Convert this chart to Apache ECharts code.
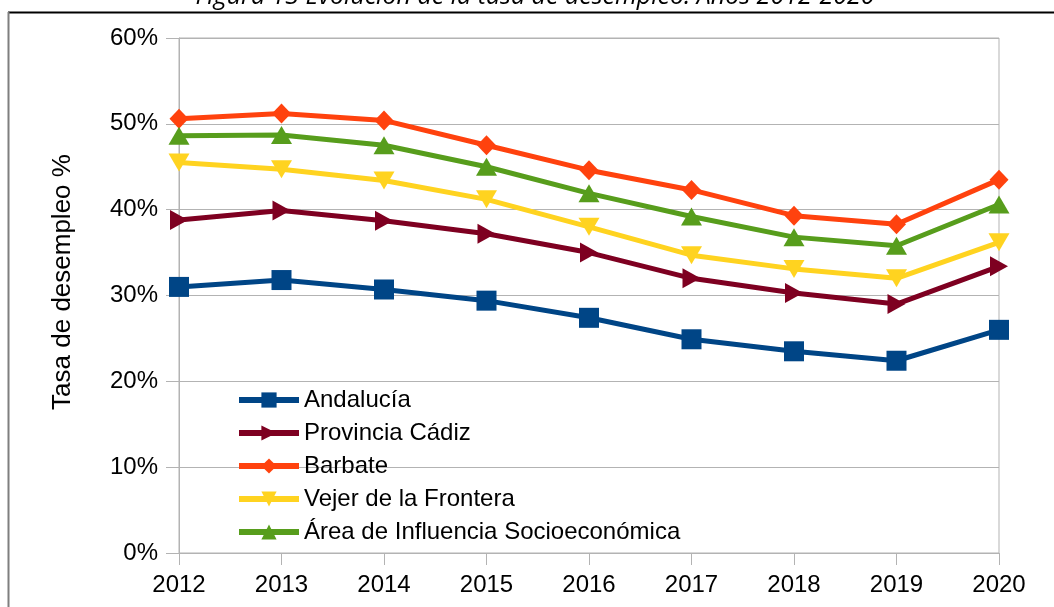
<!DOCTYPE html>
<html>
<head>
<meta charset="utf-8">
<script src="https://cdn.jsdelivr.net/npm/echarts@6/dist/echarts.min.js"></script>
<style>
  html, body { margin: 0; padding: 0; background: #fff; }
  #chart { width: 1054px; height: 607px; }
</style>
</head>
<body>
<div id="chart"></div>
<script>
//----------------------Data----------------------
let years = ['2012', '2013', '2014', '2015', '2016', '2017', '2018', '2019', '2020'];
let andalucia = [31.0, 31.8, 30.7, 29.4, 27.4, 24.9, 23.5, 22.4, 26.0];
let provincia_cadiz = [38.8, 39.9, 38.7, 37.2, 35.0, 32.0, 30.3, 29.0, 33.4];
let barbate = [50.6, 51.2, 50.4, 47.5, 44.6, 42.3, 39.3, 38.3, 43.5];
let vejer = [45.5, 44.7, 43.4, 41.2, 38.0, 34.7, 33.1, 32.0, 36.2];
let area_influencia = [48.6, 48.7, 47.5, 45.0, 41.9, 39.2, 36.8, 35.8, 40.6];
let title_text = 'Figura 13 Evolución de la tasa de desempleo. Años 2012-2020';
let y_name = 'Tasa de desempleo %';

let chart_dom = document.getElementById('chart');
let chart = echarts.init(chart_dom);

let font_main = 'Liberation Sans, Arial, sans-serif';
let grid_color = '#b3b3b3';

//---------------------Series---------------------
function make_series(name, data, color, symbol, rotate, size) {
    return {
        name: name,
        type: 'line',
        data: data,
        symbol: symbol,
        symbolSize: size,
        symbolRotate: rotate,
        showAllSymbol: true,
        lineStyle: {color: color, width: 5},
        itemStyle: {color: color},
        emphasis: {disabled: true},
        animation: false
    };
}

let series_list = [
    make_series('Andalucía', andalucia, '#004586', 'rect', 0, 20),
    make_series('Provincia Cádiz', provincia_cadiz, '#7e0021', 'triangle', -90, [20, 18]),
    make_series('Barbate', barbate, '#ff420e', 'diamond', 0, [19, 20]),
    make_series('Vejer de la Frontera', vejer, '#ffd320', 'triangle', 180, [21, 18]),
    make_series('Área de Influencia Socioeconómica', area_influencia, '#579d1c', 'triangle', 0, [21, 18])
];

//------------------Generate Graph------------------
let option = {
    backgroundColor: '#fff',
    animation: false,
    textStyle: {fontFamily: font_main},
    grid: {
        left: 179, right: 55, top: 38, bottom: 54,
        show: true, borderColor: grid_color, borderWidth: 1
    },
    legend: {
        orient: 'vertical',
        left: 236,
        top: 388,
        padding: 0,
        itemWidth: 60,
        itemHeight: 19,
        itemGap: 9,
        itemTextGap: 8,
        lineStyle: {width: 6},
        textStyle: {fontSize: 24, color: '#000', fontFamily: font_main},
        data: series_list.map(s => s.name)
    },
    xAxis: {
        type: 'category',
        data: years,
        boundaryGap: false,
        axisLine: {lineStyle: {color: grid_color}},
        axisTick: {show: true, length: 12, interval: 0, lineStyle: {color: grid_color}},
        axisLabel: {fontSize: 24, color: '#000', margin: 20, fontFamily: font_main},
        splitLine: {show: false}
    },
    yAxis: {
        type: 'value',
        min: 0, max: 60, interval: 10,
        axisLine: {show: true, lineStyle: {color: grid_color}},
        axisTick: {show: true, length: 13, lineStyle: {color: grid_color}},
        axisLabel: {fontSize: 24, color: '#000', margin: 21, formatter: '{value}%', fontFamily: font_main},
        splitLine: {show: true, lineStyle: {color: grid_color}}
    },
    graphic: [
        {
            type: 'line', silent: true,
            shape: {x1: 8, y1: 12.5, x2: 1054, y2: 12.5},
            style: {stroke: '#000', lineWidth: 2}
        },
        {
            type: 'line', silent: true,
            shape: {x1: 8.5, y1: 12, x2: 8.5, y2: 607},
            style: {stroke: '#7f7f7f', lineWidth: 2}
        },
        {
            type: 'text', silent: true,
            x: 535, y: 9,
            style: {
                text: title_text,
                fill: '#000',
                font: 'italic 25px "Open Sans", sans-serif',
                align: 'center',
                verticalAlign: 'bottom'
            }
        },
        {
            type: 'text', silent: true,
            x: 63, y: 282,
            rotation: Math.PI / 2,
            style: {
                text: y_name,
                fill: '#000',
                font: '26px "Liberation Sans", Arial, sans-serif',
                align: 'center',
                verticalAlign: 'middle'
            }
        }
    ],
    series: series_list
};
chart.setOption(option, true);
</script>
</body>
</html>
